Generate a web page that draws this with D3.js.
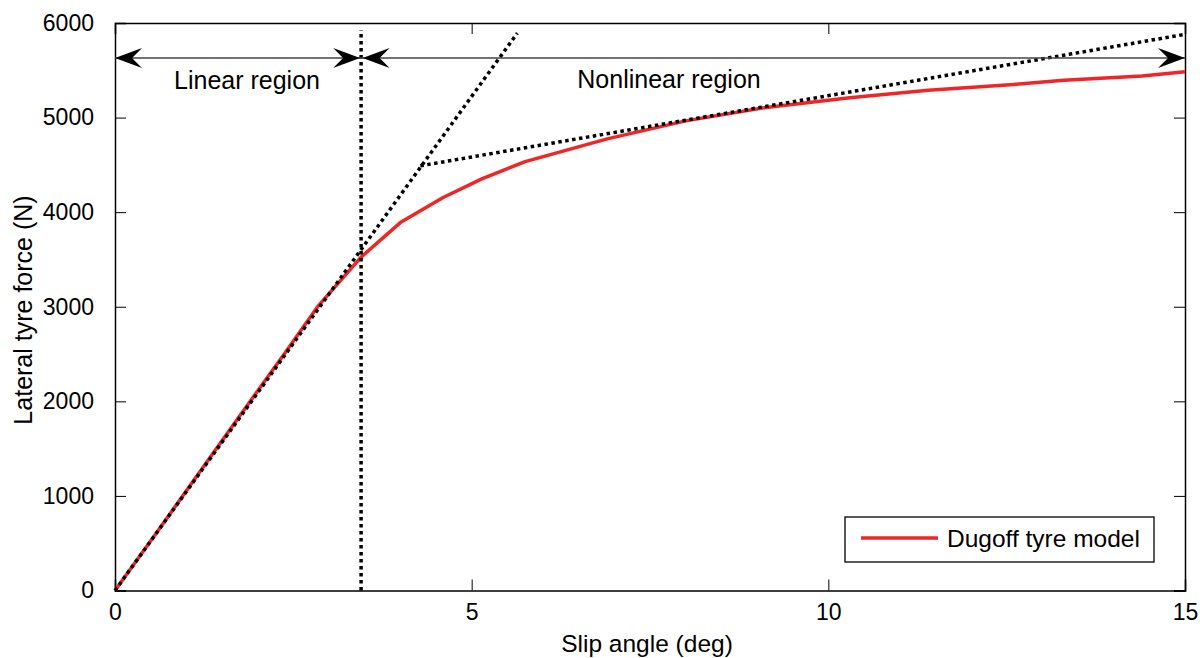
<!DOCTYPE html>
<html>
<head>
<meta charset="utf-8">
<script src="https://cdn.jsdelivr.net/npm/d3@7"></script>
<style>
  body { margin: 0; background: #fff; }
  text { font-family: "Liberation Sans", Arial, sans-serif; fill: #000; }
</style>
</head>
<body>
<svg id="chart" width="1202" height="658"></svg>
<script>
// Dugoff tyre model curve
const slipAngle = [0, 0.6, 1.2, 1.8, 2.4, 2.85, 3.45, 4.0, 4.6, 5.15, 5.75, 6.9, 8.0, 9.1, 10.3, 11.4, 12.6, 13.3, 14.4, 15];
const lateralForce = [0, 630, 1265, 1900, 2530, 3010, 3525, 3890, 4155, 4355, 4535, 4775, 4965, 5105, 5210, 5290, 5350, 5395, 5440, 5485];

// dotted helper lines
const tangentX = [0, 5.64];
const tangentY = [0, 5893];
const satX = [4.28, 15];
const satY = [4490, 5880];
const boundaryX = 3.45;
const boundaryTop = 5925;
const arrowLevel = 5630;

const xTicks = [0, 5, 10, 15];
const yTicks = [0, 1000, 2000, 3000, 4000, 5000, 6000];

const margin = {top: 23, left: 115, right: 17, bottom: 67.5};
const w = 1202, h = 658;
const innerW = w - margin.left - margin.right;
const innerH = h - margin.top - margin.bottom;

const svg = d3.select("#chart");
const g = svg.append("g").attr("transform", `translate(${margin.left},${margin.top})`);

const x = d3.scaleLinear().domain([0, 15]).range([0, innerW]);
const y = d3.scaleLinear().domain([0, 6000]).range([innerH, 0]);

// axes with inward ticks on all four sides
const tickLen = 11;
const fs = "23px";
g.append("g").attr("transform", `translate(0,${innerH})`)
  .call(d3.axisBottom(x).tickValues(xTicks).tickSize(-tickLen).tickPadding(tickLen + 2).tickFormat(d3.format("d")))
  .call(a => a.selectAll("text").style("font-size", fs));
g.append("g")
  .call(d3.axisTop(x).tickValues(xTicks).tickSize(-tickLen).tickFormat(""));
g.append("g")
  .call(d3.axisLeft(y).tickValues(yTicks).tickSize(-tickLen).tickPadding(tickLen + 10).tickFormat(d3.format("d")))
  .call(a => a.selectAll("text").style("font-size", fs));
g.append("g").attr("transform", `translate(${innerW},0)`)
  .call(d3.axisRight(y).tickValues(yTicks).tickSize(-tickLen).tickFormat(""));
g.selectAll(".domain").attr("stroke", "#000").attr("stroke-width", 1.5);
g.selectAll(".tick line").attr("stroke", "#000").attr("stroke-width", 1);

const line = d3.line().x(d => x(d[0])).y(d => y(d[1]));
const dotted = {stroke: "#000", "stroke-width": 3.5, "stroke-dasharray": "3.5,3.5", fill: "none"};

function drawDotted(pts) {
  const p = g.append("path").attr("d", line(pts));
  Object.entries(dotted).forEach(([k, v]) => p.attr(k, v));
}

// red curve
g.append("path")
  .datum(d3.zip(slipAngle, lateralForce))
  .attr("d", line)
  .attr("fill", "none")
  .attr("stroke", "#f02626")
  .attr("stroke-width", 3.5)
  .attr("stroke-linejoin", "round");

drawDotted(d3.zip(tangentX, tangentY));
drawDotted(d3.zip(satX, satY));
drawDotted([[boundaryX, 0], [boundaryX, boundaryTop]]);

// region arrows
const ay = y(arrowLevel);
g.append("line").attr("x1", 0).attr("x2", innerW).attr("y1", ay).attr("y2", ay)
  .attr("stroke", "#444").attr("stroke-width", 1.3);

function arrowHead(tipX, dir) {
  // dir = 1 points right, -1 points left
  const L = 27, H = 10, N = 17;
  const pts = [[tipX, ay], [tipX - dir * L, ay - H], [tipX - dir * N, ay], [tipX - dir * L, ay + H]];
  g.append("path").attr("d", "M" + pts.map(p => p.join(",")).join("L") + "Z").attr("fill", "#000");
}
arrowHead(x(0), -1);
arrowHead(x(boundaryX) - 1, 1);
arrowHead(x(boundaryX) + 1.5, -1);
arrowHead(x(15), 1);

g.append("text").attr("x", 247 - margin.left).attr("y", ay + 31).attr("text-anchor", "middle")
  .style("font-size", "25px").text("Linear region");
g.append("text").attr("x", 669 - margin.left).attr("y", ay + 30).attr("text-anchor", "middle")
  .style("font-size", "25px").text("Nonlinear region");

// axis labels
svg.append("text").attr("x", 647).attr("y", 652).attr("text-anchor", "middle")
  .style("font-size", "24.5px").text("Slip angle (deg)");
svg.append("text").attr("transform", "translate(32,310)rotate(-90)")
  .attr("text-anchor", "middle").style("font-size", "25px").text("Lateral tyre force (N)");

// legend
const lg = svg.append("g").attr("transform", "translate(845,517)");
lg.append("rect").attr("width", 309).attr("height", 45).attr("fill", "#fff")
  .attr("stroke", "#000").attr("stroke-width", 1.3);
lg.append("line").attr("x1", 16).attr("x2", 93).attr("y1", 21).attr("y2", 21)
  .attr("stroke", "#f02626").attr("stroke-width", 3.5);
lg.append("text").attr("x", 102).attr("y", 30).style("font-size", "24.5px").text("Dugoff tyre model");
</script>
</body>
</html>
